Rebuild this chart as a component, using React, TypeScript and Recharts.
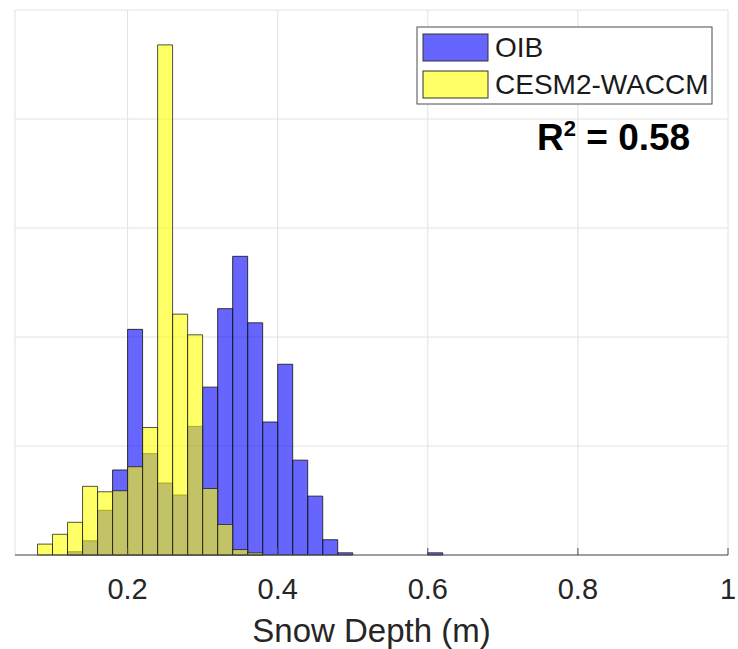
import React from 'react';
import { ComposedChart, Bar, XAxis, YAxis, CartesianGrid, Label } from 'recharts';

// histogram bins (centres, width 0.02 m)
const binCenters = [
  0.09, 0.11, 0.13, 0.15, 0.17, 0.19, 0.21, 0.23, 0.25, 0.27, 0.29, 0.31, 0.33, 0.35,
  0.37, 0.39, 0.41, 0.43, 0.45, 0.47, 0.49, 0.51, 0.53, 0.55, 0.57, 0.59, 0.61,
];
const oibHeights = [
  0, 0, 0.03, 0.13, 0.41, 0.78, 2.07, 0.93, 0.66, 0.55, 1.18, 1.54, 2.26, 2.74,
  2.13, 1.22, 1.75, 0.87, 0.54, 0.14, 0.02, 0, 0, 0, 0, 0, 0.02,
];
const cesmHeights = [
  0.1, 0.19, 0.3, 0.63, 0.58, 0.59, 0.81, 1.17, 4.68, 2.21, 2.02, 0.61, 0.28, 0.05,
  0.02, 0, 0, 0, 0, 0, 0, 0, 0, 0, 0, 0, 0,
];
const xTicks = [0.2, 0.4, 0.6, 0.8, 1];
const yTicks = [0, 1, 2, 3, 4, 5];
const seriesNames = ['OIB', 'CESM2-WACCM'];
const r2Value = '0.58';

const FONT = '"Liberation Sans", Arial, Helvetica, sans-serif';
const AXIS = '#4d4d4d';
const OIB_FILL = '#0000ff';
const CESM_FILL = '#ffff00';

const data = binCenters.map((x, i) => ({ x, oib: oibHeights[i], cesm: cesmHeights[i] }));

const BottomTick = (props: any) => {
  const { x, y, payload } = props;
  return (
    <g>
      <line x1={x} y1={y} x2={x} y2={y - 7} stroke={AXIS} />
      <text x={x} y={y + 44} textAnchor="middle" fontSize={29} fontFamily={FONT} fill="#262626">
        {payload.value}
      </text>
    </g>
  );
};

const TopTick = (props: any) => {
  const { x, y } = props;
  return <line x1={x} y1={y} x2={x} y2={y + 7} stroke={AXIS} />;
};

const LeftTick = (props: any) => {
  const { x, y } = props;
  return <line x1={x} y1={y} x2={x + 7} y2={y} stroke={AXIS} />;
};

const RightTick = (props: any) => {
  const { x, y } = props;
  return <line x1={x} y1={y} x2={x - 7} y2={y} stroke={AXIS} />;
};

export default function App() {
  return (
    <div style={{ position: 'absolute', left: 0, top: 0, width: 738, height: 649, background: '#fff' }}>
      <ComposedChart
        width={738}
        height={649}
        data={data}
        margin={{ top: 10, right: 10, bottom: 4, left: 15 }}
        barCategoryGap={0}
        barGap={0}
      >
        <CartesianGrid xAxisId="a" yAxisId="left" stroke="#e2e2e2" strokeWidth={1} />
        <XAxis
          xAxisId="a"
          dataKey="x"
          type="number"
          domain={[0.05, 1]}
          allowDataOverflow
          ticks={xTicks}
          interval={0}
          height={90}
          stroke={AXIS}
          tickLine={false}
          tickSize={0}
          tickMargin={0}
          tick={<BottomTick />}
        >
          <Label
            content={({ viewBox }: any) => (
              <text
                x={viewBox.x + viewBox.width / 2}
                y={viewBox.y + 87}
                textAnchor="middle"
                fontSize={33}
                fontFamily={FONT}
                fill="#262626"
              >
                Snow Depth (m)
              </text>
            )}
          />
        </XAxis>
        <XAxis xAxisId="b" dataKey="x" type="number" domain={[0.05, 1]} allowDataOverflow hide />
        <XAxis
          xAxisId="top"
          orientation="top"
          dataKey="x"
          type="number"
          domain={[0.05, 1]}
          allowDataOverflow
          ticks={xTicks}
          interval={0}
          height={0}
          stroke={AXIS}
          tickLine={false}
          tickSize={0}
          tickMargin={0}
          tick={<TopTick />}
        />
        <YAxis
          yAxisId="left"
          type="number"
          domain={[0, 5]}
          ticks={yTicks}
          interval={0}
          width={0}
          stroke={AXIS}
          tickLine={false}
          tickSize={0}
          tickMargin={0}
          tick={<LeftTick />}
        />
        <YAxis
          yAxisId="right"
          orientation="right"
          type="number"
          domain={[0, 5]}
          ticks={yTicks}
          interval={0}
          width={0}
          stroke={AXIS}
          tickLine={false}
          tickSize={0}
          tickMargin={0}
          tick={<RightTick />}
        />
        <Bar
          xAxisId="a"
          yAxisId="left"
          dataKey="oib"
          name={seriesNames[0]}
          fill={OIB_FILL}
          fillOpacity={0.6}
          stroke="#1a1a1a"
          strokeOpacity={0.85}
          strokeWidth={1}
          isAnimationActive={false}
        />
        <Bar
          xAxisId="b"
          yAxisId="left"
          dataKey="cesm"
          name={seriesNames[1]}
          fill={CESM_FILL}
          fillOpacity={0.6}
          stroke="#1a1a1a"
          strokeOpacity={0.75}
          strokeWidth={1}
          isAnimationActive={false}
        />
      </ComposedChart>

      <svg
        width={738}
        height={649}
        style={{ position: 'absolute', left: 0, top: 0, pointerEvents: 'none' }}
      >
        <rect x={417} y={27} width={295} height={77} fill="#fff" stroke={AXIS} strokeWidth={1} />
        <rect x={423} y={34} width={65} height={27} fill={OIB_FILL} fillOpacity={0.6} stroke="#333" />
        <text x={495} y={57} fontSize={28} fontFamily={FONT} fill="#1a1a1a">
          {seriesNames[0]}
        </text>
        <rect x={423} y={71} width={65} height={27} fill={CESM_FILL} fillOpacity={0.6} stroke="#333" />
        <text x={495} y={94} fontSize={28} fontFamily={FONT} fill="#1a1a1a">
          {seriesNames[1]}
        </text>
        <text x={537} y={150} fontSize={37} fontWeight="bold" fontFamily={FONT} fill="#000">
          R
          <tspan dy={-14} fontSize={22}>2</tspan>
          <tspan dy={14}>{` = ${r2Value}`}</tspan>
        </text>
      </svg>
    </div>
  );
}
